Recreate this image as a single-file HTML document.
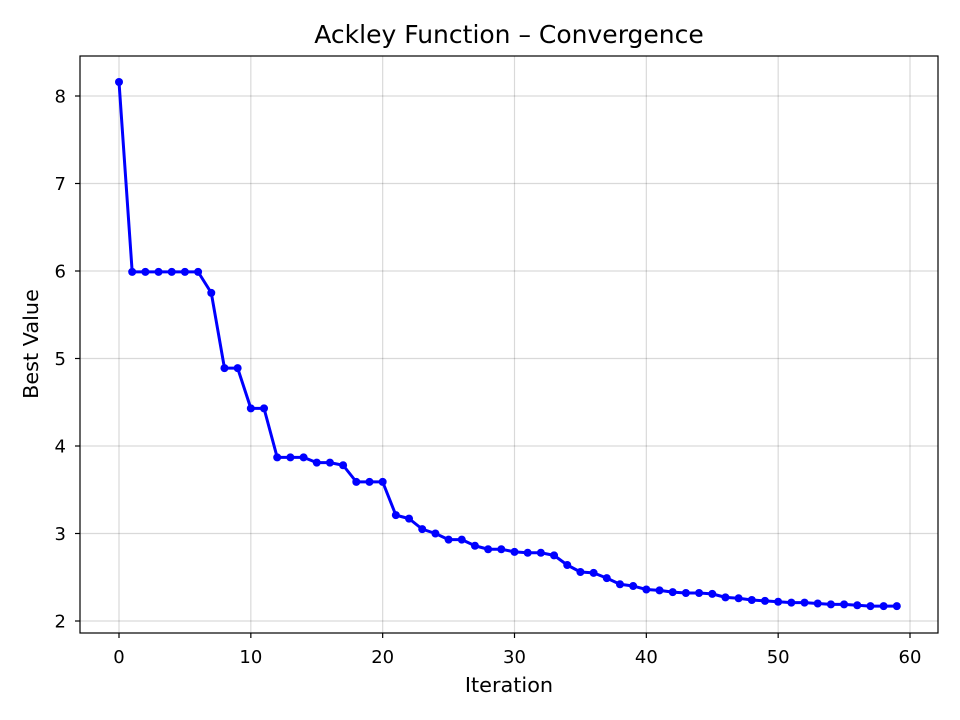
<!DOCTYPE html>
<html><head><meta charset="utf-8"><style>
body{margin:0;background:#fff;width:960px;height:720px;overflow:hidden}
svg{display:block;font-family:"DejaVu Sans","Liberation Sans",sans-serif}
</style></head><body>
<svg id="chart" width="960" height="720">
<rect x="0" y="0" width="960" height="720" fill="#fff"/>
<g id="grid"></g>
<g id="ticks"></g>
<g id="series"></g>
<rect x="80" y="56" width="858" height="577" fill="none" stroke="#000" stroke-width="1.2"/>
<text x="509" y="43" text-anchor="middle" font-size="25">Ackley Function – Convergence</text>
<text x="509" y="692" text-anchor="middle" font-size="20.8">Iteration</text>
<text x="38" y="344" text-anchor="middle" font-size="20.8" transform="rotate(-90 38 344)">Best Value</text>
</svg>
<script>
const iterations=[];for(let i=0;i<60;i++)iterations.push(i);
const bestValues=[8.16,5.99,5.99,5.99,5.99,5.99,5.99,5.75,4.89,4.89,4.43,4.43,3.87,3.87,3.87,3.81,3.81,3.78,3.59,3.59,3.59,3.21,3.17,3.05,3.00,2.93,2.93,2.86,2.82,2.82,2.79,2.78,2.78,2.75,2.64,2.56,2.55,2.49,2.42,2.40,2.36,2.35,2.33,2.32,2.32,2.31,2.27,2.26,2.24,2.23,2.22,2.21,2.21,2.20,2.19,2.19,2.18,2.17,2.17,2.17];
const xTicks=[0,10,20,30,40,50,60];
const yTicks=[2,3,4,5,6,7,8];
const NS="http://www.w3.org/2000/svg";
function xs(v){return 119+v*(910-119)/60;}
function ys(v){return 621-(v-2)*87.5;}
function mk(t,a,p){const e=document.createElementNS(NS,t);for(const k in a)e.setAttribute(k,a[k]);p.appendChild(e);return e;}
const grid=document.getElementById('grid'),ticks=document.getElementById('ticks'),series=document.getElementById('series');
xTicks.forEach(v=>{const x=xs(v);
 const g=mk('line',{x1:x,x2:x,y1:56,y2:633,stroke:'#000','stroke-opacity':0.15,'stroke-width':1.2},grid);
 
 
 const t=mk('line',{x1:x,x2:x,y1:633,y2:638,stroke:'#000','stroke-width':1.2},ticks);
 
 
 const l=mk('text',{x:x,y:663,'text-anchor':'middle','font-size':18},ticks);l.textContent=v;
 
 
});
yTicks.forEach(v=>{const y=ys(v);
 const g=mk('line',{x1:80,x2:938,y1:y,y2:y,stroke:'#000','stroke-opacity':0.15,'stroke-width':1.2},grid);
 
 
 const t=mk('line',{x1:75,x2:80,y1:y,y2:y,stroke:'#000','stroke-width':1.2},ticks);
 
 
 const l=mk('text',{x:66,y:y+6.5,'text-anchor':'end','font-size':18},ticks);l.textContent=v;
 
 
});
const pts=bestValues.map((v,i)=>xs(iterations[i])+','+ys(v)).join(' ');
const line=mk('polyline',{points:pts,fill:'none',stroke:'#0000ff','stroke-width':3,'stroke-linejoin':'round'},series);


bestValues.forEach((v,i)=>{const c=mk('circle',{cx:xs(iterations[i]),cy:ys(v),r:4,fill:'#0000ff'},series);
 
 
});
</script>
</body></html>
